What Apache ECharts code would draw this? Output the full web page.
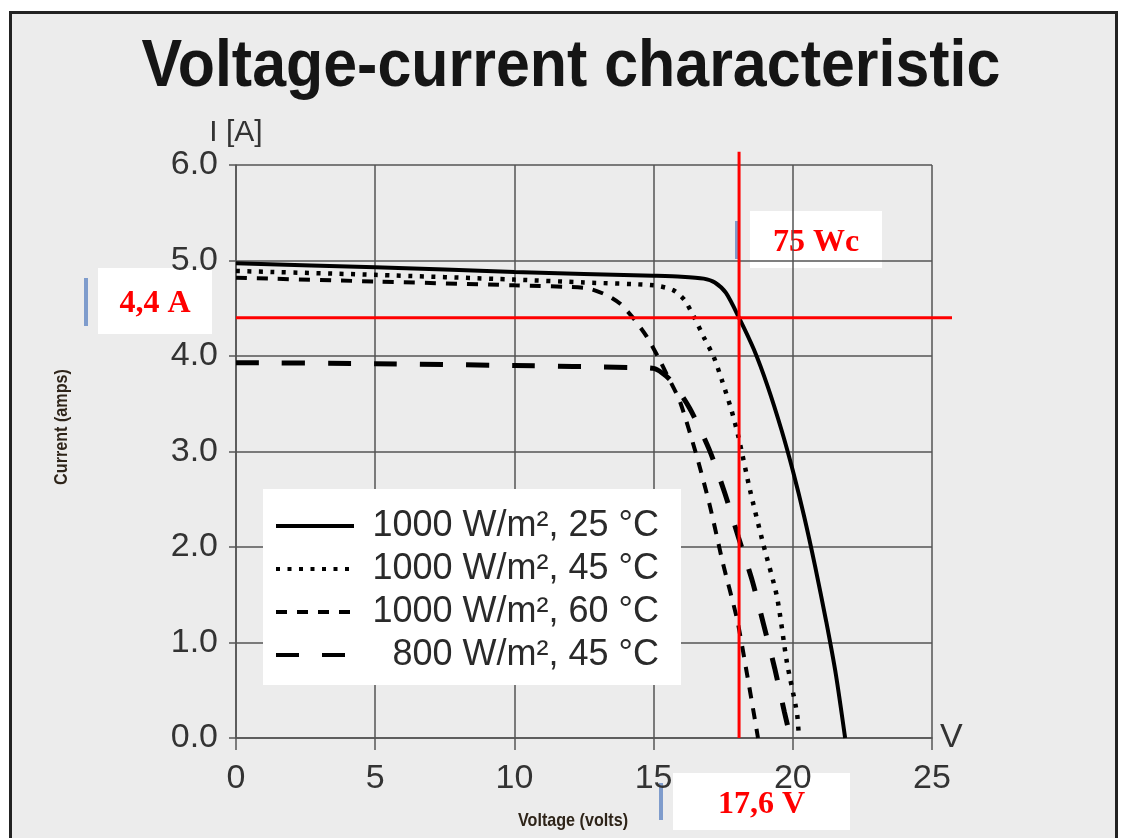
<!DOCTYPE html>
<html lang="en">
<head>
    <meta charset="UTF-8">
    <title>Voltage-current characteristic</title>
    <script src="https://cdn.jsdelivr.net/npm/echarts@6/dist/echarts.min.js"></script>
    <style>
      body { margin: 0; background: #fff; }
      #frame { position: absolute; left: 9px; top: 11px; width: 1109px; height: 840px;
               background: #ececec; border: 3px solid #222; box-sizing: border-box; }
      #chart { position: absolute; left: 0; top: 0; width: 1125px; height: 838px; }
    </style>
</head>
<body>
  <div id="frame"></div>
  <div id="chart"></div>
  <script>
    // legend names
    var names = ["1000 W/m², 25 °C", "1000 W/m², 45 °C", "1000 W/m², 60 °C", "800 W/m², 45 °C"];

    // 1000 W/m2, 25 C
    var v25 = [0, 5, 10, 15, 16, 16.8, 17.2, 17.6, 18.07, 18.6, 19.1, 19.6, 20.0, 20.4, 20.8, 21.2, 21.55, 21.88];
    var i25 = [4.97, 4.93, 4.88, 4.84, 4.83, 4.81, 4.77, 4.66, 4.40, 4.07, 3.68, 3.22, 2.80, 2.33, 1.80, 1.22, 0.66, 0.0];

    // 1000 W/m2, 45 C
    var v45 = [0, 5, 10, 12.5, 15, 15.7, 16.1, 16.45, 16.8, 17.16, 17.45, 17.8, 18.05, 18.46, 18.93, 19.43, 19.79, 20.15, 20.22];
    var i45 = [4.89, 4.85, 4.80, 4.77, 4.74, 4.69, 4.59, 4.41, 4.20, 3.99, 3.75, 3.43, 3.15, 2.60, 2.04, 1.48, 0.79, 0.26, 0.0];

    // 1000 W/m2, 60 C
    var v60 = [0, 5, 10, 12.6, 13.3, 13.79, 14.26, 14.76, 15.16, 15.52, 15.95, 16.56, 17.03, 17.49, 18.0, 18.35, 18.64, 18.75];
    var i60 = [4.82, 4.78, 4.74, 4.71, 4.64, 4.55, 4.40, 4.20, 3.99, 3.78, 3.52, 2.94, 2.42, 1.83, 1.24, 0.68, 0.19, 0.0];

    // 800 W/m2, 45 C
    var v800 = [0, 5, 10, 14.2, 15.0, 15.6, 16.3, 17.0, 17.55, 18.05, 18.55, 18.95, 19.35, 19.7, 19.92];
    var i800 = [3.93, 3.92, 3.90, 3.88, 3.87, 3.75, 3.45, 3.02, 2.57, 2.10, 1.64, 1.19, 0.73, 0.27, 0.0];

    // red marker lines (the horizontal one runs a little past the 25 V edge)
    var markV = [18.07, 18.07];
    var markVI = [0, 6.14];
    var markH = [0, 25.72];
    var markHI = [4.4, 4.4];

    function pairs(xs, ys) {
      return xs.map(function (x, k) { return [x, ys[k]]; });
    }

    var chart = echarts.init(document.getElementById("chart"));

    var gridColor = "#555";
    var tickFont = { fontFamily: "Liberation Sans", fontSize: 34, color: "#333" };

    function curve(name, xs, ys, dash, width) {
      return {
        name: name,
        type: "line",
        data: pairs(xs, ys),
        symbol: "none",
        smooth: 0.25,
        lineStyle: { color: "#000", width: width, type: dash, cap: "butt" },
        itemStyle: { color: "#000" },
        z: 2
      };
    }

    function redLine(xs, ys, gi) {
      return {
        type: "line",
        xAxisIndex: gi,
        yAxisIndex: gi,
        data: pairs(xs, ys),
        symbol: "none",
        clip: false,
        silent: true,
        lineStyle: { color: "#ff0000", width: 3 },
        z: 5
      };
    }

    var redFont = { fontFamily: "Liberation Serif", fontWeight: "bold", fontSize: 32, fill: "#ff0000" };

    function note(x, y, w, h, barX, barY1, barY2, txt) {
      return {
        type: "group",
        z: 100,
        children: [
          { type: "rect", shape: { x: x, y: y, width: w, height: h }, style: { fill: "#fff" } },
          { type: "rect", shape: { x: barX, y: barY1, width: 4, height: barY2 - barY1 }, style: { fill: "#7f9ccc" } },
          { type: "text", x: x + w / 2, y: y + h / 2 + 3,
            style: Object.assign({ text: txt, align: "center", verticalAlign: "middle" }, redFont) }
        ]
      };
    }

    var smallBold = { fontFamily: "Liberation Sans", fontWeight: "bold", fontSize: 19, fill: "#2e2419",
                      align: "center", verticalAlign: "middle" };

    var option = {
      animation: false,
      grid: [
        { left: 236, right: 193, top: 165, bottom: 100, containLabel: false },
        // same scale, wider box, only for the long red line
        { left: 236, right: 173, top: 165, bottom: 100, containLabel: false }
      ],
      legend: {
        data: names,
        orient: "vertical",
        left: 263,
        top: 489,
        backgroundColor: "#fff",
        padding: [19, 22, 12, 11],
        itemWidth: 78,
        itemHeight: 14,
        itemGap: 7,
        selectedMode: false,
        itemStyle: { opacity: 0 },
        lineStyle: { width: 4 },
        formatter: function (n) { return "{a|" + n + "}"; },
        textStyle: {
          rich: {
            a: { fontFamily: "Liberation Sans", fontSize: 36, color: "#2a2a2a",
                 width: 300, align: "right" }
          }
        }
      },
      xAxis: [{
        type: "value",
        min: 0,
        max: 25,
        interval: 5,
        name: "V",
        nameLocation: "end",
        nameGap: 8,
        nameTextStyle: tickFont,
        axisLine: { lineStyle: { color: gridColor, width: 1.5 } },
        axisTick: { show: true, length: 12, lineStyle: { color: gridColor, width: 1.5 } },
        axisLabel: Object.assign({ margin: 24 }, tickFont),
        splitLine: { show: true, lineStyle: { color: gridColor, width: 1.5 } }
      }, {
        type: "value", gridIndex: 1, min: 0, max: 25.72, show: false
      }],
      yAxis: [{
        type: "value",
        min: 0,
        max: 6,
        interval: 1,
        name: "I [A]",
        nameLocation: "end",
        nameGap: 4,
        nameTextStyle: { fontFamily: "Liberation Sans", fontSize: 30, color: "#333", align: "center" },
        axisLine: { show: true, lineStyle: { color: gridColor, width: 1.5 } },
        axisTick: { show: true, length: 7, lineStyle: { color: gridColor, width: 1.5 } },
        axisLabel: Object.assign({ margin: 18, formatter: function (v) { return v.toFixed(1); } }, tickFont),
        splitLine: { show: true, lineStyle: { color: gridColor, width: 1.5 } }
      }, {
        type: "value", gridIndex: 1, min: 0, max: 6, show: false
      }],
      series: [
        curve(names[0], v25, i25, "solid", 4),
        curve(names[1], v45, i45, [4, 7.5], 4.5),
        curve(names[2], v60, i60, [11, 10], 4),
        curve(names[3], v800, i800, [23, 23], 5),
        redLine(markV, markVI, 0),
        redLine(markH, markHI, 1)
      ],
      graphic: [
        { type: "text", x: 571, y: 68, scaleX: 0.923,
          style: { text: "Voltage-current characteristic", align: "center", verticalAlign: "middle",
                   fontFamily: "Liberation Sans", fontWeight: "bold", fontSize: 66, fill: "#151515" } },
        { type: "text", x: 573, y: 821, scaleX: 0.85,
          style: Object.assign({ text: "Voltage (volts)" }, smallBold) },
        { type: "text", x: 62, y: 427, rotation: Math.PI / 2, scaleX: 0.85,
          style: Object.assign({ text: "Current (amps)" }, smallBold) },
        note(750, 211, 132, 57, 735, 221, 259, "75 Wc"),
        note(98, 268, 114, 66, 84, 278, 326, "4,4 A"),
        note(673, 773, 177, 57, 659, 783, 820, "17,6 V")
      ]
    };

    chart.setOption(option);
  </script>
</body>
</html>
